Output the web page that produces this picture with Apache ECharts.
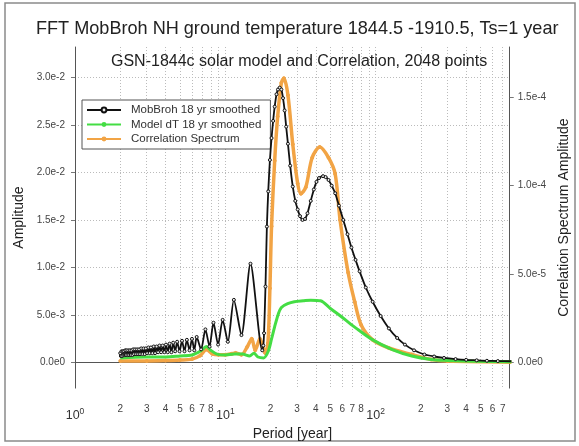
<!DOCTYPE html>
<html>
<head>
<meta charset="utf-8">
<script src="https://cdn.jsdelivr.net/npm/echarts@6/dist/echarts.min.js"></script>
<style>
html,body{margin:0;padding:0;background:#fff;}
#chart{width:579px;height:446px;}
</style>
</head>
<body>
<div id="chart"></div>
<script>
// ---- data ----
const blackPeriods = [2.00,2.02,2.04,2.06,2.08,2.10,2.12,2.14,2.16,2.18,2.20,2.23,2.26,2.29,2.32,2.35,2.38,2.41,2.44,2.47,2.51,2.55,2.59,2.63,2.67,2.71,2.76,2.81,2.86,2.91,2.96,3.02,3.08,3.14,3.20,3.27,3.34,3.41,3.49,3.57,3.65,3.74,3.83,3.93,4.03,4.14,4.26,4.38,4.50,4.64,4.78,4.96,5.15,5.35,5.55,5.78,6.00,6.22,6.45,6.90,7.37,7.85,8.34,8.95,9.60,10.4,11.4,12.8,14.7,17.6,17.9,18.1,18.5,18.9,19.3,19.8,20.3,20.8,21.3,21.9,22.4,23.0,23.6,24.2,24.8,25.4,26.1,27.0,28.1,29.2,30.3,31.4,32.6,33.9,35.2,37.0,38.8,40.4,42.0,44.7,46.5,48.6,51.0,53.8,57.0,60.9,65.0,69.0,73.5,78.2,86.0,95.5,108,122.5,139,156.6,180,211,245,285,340,400,470,550,650,800];
const blackValues = [0.0010,0.0007,0.0012,0.0007,0.0012,0.0008,0.0012,0.0008,0.0013,0.0008,0.0013,0.0008,0.0013,0.0008,0.0013,0.0008,0.0013,0.0008,0.0014,0.0009,0.0014,0.0009,0.0014,0.0009,0.0014,0.0009,0.0015,0.0009,0.0015,0.0009,0.0015,0.0010,0.0016,0.0010,0.0016,0.0010,0.0017,0.0010,0.0017,0.0011,0.0018,0.0011,0.0018,0.0011,0.0019,0.0011,0.0020,0.0011,0.0021,0.0012,0.0022,0.0012,0.0023,0.0012,0.0024,0.0013,0.0025,0.0013,0.0027,0.0014,0.0035,0.0017,0.0042,0.0019,0.0045,0.0022,0.0066,0.0029,0.0104,0.0013,0.0018,0.0031,0.0080,0.0143,0.0180,0.0213,0.0236,0.0254,0.0269,0.0282,0.0287,0.0289,0.0287,0.0278,0.0265,0.0248,0.0230,0.0207,0.0185,0.0170,0.0161,0.0154,0.0150,0.0151,0.0157,0.0170,0.0182,0.0190,0.0194,0.0196,0.0195,0.0192,0.0186,0.0178,0.0165,0.0150,0.0135,0.0121,0.0108,0.0096,0.0079,0.0064,0.0049,0.0036,0.0026,0.0019,0.0013,0.00086,0.00065,0.0005,0.00038,0.0003,0.00025,0.0002,0.00017,0.00015];

const greenPeriods = [2.0,3.0,4.0,5.0,6.0,6.8,7.5,8.0,8.8,10,11.5,13,14.5,15.5,16.5,18,19.3,20.3,21.3,22.5,23.6,26,28.8,33,37,43,50,61,74,95,129,174,234,301,450,800];
const greenValues = [0.0005,0.0006,0.0006,0.0007,0.0008,0.0012,0.0017,0.0013,0.0009,0.0008,0.0009,0.0009,0.0007,0.0010,0.0006,0.0005,0.0012,0.0025,0.0038,0.0051,0.0058,0.0062,0.0064,0.0065,0.00657,0.0065,0.0057,0.00467,0.00363,0.00242,0.00138,0.0007,0.00034,0.00024,0.00015,0.0001];

const orangePeriods = [2.0,3.0,4.0,5.0,6.0,6.8,7.5,8.2,9.0,10,11,11.7,12.8,14.0,15.0,15.8,17.0,18.4,19.2,19.8,20.3,21.3,22.3,23.6,24.5,26.1,28.1,30.3,31.8,34.3,37.8,42.5,48.6,53.8,58,65.6,72.6,80.1,95.5,122.5,174,234,301,800];
const orangeValues = [1.0e-6,1.0e-6,1.2e-6,1.5e-6,2.0e-6,4.0e-6,7.4e-6,5.0e-6,4.5e-6,4.5e-6,5.0e-6,5.5e-6,4.5e-6,9.0e-6,1.35e-5,7.0e-6,1.35e-5,5.5e-6,1.1e-5,4.2e-5,7.7e-5,1.14e-4,1.39e-4,1.58e-4,1.606e-4,1.51e-4,1.233e-4,1.011e-4,9.54e-5,9.9e-5,1.157e-4,1.217e-4,1.157e-4,1.065e-4,8.06e-5,5.09e-5,3.43e-5,2.13e-5,1.29e-5,8.3e-6,4.6e-6,1.8e-6,9e-7,3e-7];

const leftTicks = [0,0.005,0.010,0.015,0.020,0.025,0.030];
const rightTicks = [0,5e-5,1e-4,1.5e-4];
const xGridValues = [2,3,4,5,6,7,8,9,10,20,30,40,50,60,70,80,90,100,200,300,400,500,600,700];
const xLabelValues = [1,2,3,4,5,6,7,8,10,20,30,40,50,60,70,80,100,200,300,400,500,600,700];

const seriesNames = ['MobBroh 18 yr smoothed','Model dT 18 yr smoothed','Correlation Spectrum'];

function pair(ps, vs){ return ps.map((p,i)=>[p, vs[i]]); }
function expFmt(v){
  return v.toExponential(1).replace('e+','e');
}
const FONT = 'Liberation Sans, Arial, sans-serif';

const chart = echarts.init(document.getElementById('chart'), null, {renderer:'canvas'});
chart.setOption({
  backgroundColor:'#fff',
  animation:false,
  title:[
    {text:'FFT MobBroh NH ground temperature 1844.5 -1910.5, Ts=1 year', left:31, top:15,
     textStyle:{fontSize:18.1, fontWeight:'normal', color:'#222', fontFamily:FONT}},
    {text:'GSN-1844c solar model and Correlation, 2048 points', left:106, top:49,
     textStyle:{fontSize:16, fontWeight:'normal', color:'#222', fontFamily:FONT}}
  ],
  graphic:[
    {type:'rect', shape:{x:5,y:3,width:570,height:438}, style:{fill:'none', stroke:'#8a8a8a', lineWidth:1.5}, silent:true}
  ],
  legend:{
    orient:'vertical', left:82, top:100,
    data:seriesNames,
    borderColor:'#555', borderWidth:1, borderRadius:0,
    padding:[4,9,4,4], itemGap:2.5, itemWidth:34, itemHeight:6,
    textStyle:{fontSize:11.5, color:'#333', fontFamily:FONT, padding:[0,0,0,5]},
    backgroundColor:'#fff'
  },
  grid:{left:75, right:56, top:47, bottom:50},
  xAxis:{
    type:'log', logBase:10, min:1, max:780,
    name:'Period [year]', nameLocation:'middle', nameGap:35,
    nameTextStyle:{fontSize:14, color:'#222', fontFamily:FONT},
    axisLine:{show:true, lineStyle:{color:'#555', width:1}},
    axisTick:{show:false, customValues:xGridValues},
    splitLine:{show:true, lineStyle:{color:'#bbb', type:[1,2], width:1}},
    minorTick:{show:false}, minorSplitLine:{show:false},
    axisLabel:{
      customValues:xLabelValues, margin:16, color:'#444', fontFamily:FONT, fontSize:10,
      formatter:function(v){
        if (v===1) return '{b|10}{s|0}';
        if (v===10) return '{b|10}{s|1}';
        if (v===100) return '{b|10}{s|2}';
        const d = Math.round(v/Math.pow(10, Math.floor(Math.log10(v)+1e-9)));
        return '{d|'+d+'}';
      },
      rich:{
        b:{fontSize:12.5, color:'#333', fontFamily:FONT, padding:[5,0,0,0]},
        s:{fontSize:8.5, color:'#333', fontFamily:FONT, padding:[0,0,2,0]},
        d:{fontSize:10, color:'#444', fontFamily:FONT}
      }
    }
  },
  yAxis:[
    {
      type:'value', min:-0.00267, max:0.03317, position:'left',
      name:'Amplitude', nameLocation:'middle', nameGap:45,
      nameTextStyle:{fontSize:14, color:'#222', fontFamily:FONT},
      axisLine:{show:true, lineStyle:{color:'#555'}},
      axisTick:{show:true, customValues:leftTicks, length:4, lineStyle:{color:'#777'}},
      axisLabel:{customValues:leftTicks, formatter:expFmt, margin:10, fontSize:10, color:'#444', fontFamily:FONT},
      splitLine:{show:true, lineStyle:{color:'#bbb', type:[1,2], width:1}}
    },
    {
      type:'value', min:-1.434e-5, max:1.782e-4, position:'right',
      name:'Correlation Spectrum Amplitude', nameLocation:'middle', nameGap:44,
      nameTextStyle:{fontSize:14, color:'#222', fontFamily:FONT},
      axisLine:{show:true, lineStyle:{color:'#555'}},
      axisTick:{show:true, customValues:rightTicks, length:4, lineStyle:{color:'#777'}},
      axisLabel:{customValues:rightTicks, formatter:expFmt, margin:8, fontSize:10, color:'#444', fontFamily:FONT},
      splitLine:{show:false}
    }
  ],
  series:[
    {
      name:seriesNames[0], type:'line', yAxisIndex:0, z:5,
      data:pair(blackPeriods, blackValues), smooth:0.25,
      symbol:'circle', symbolSize:3, showSymbol:true,
      itemStyle:{color:'#eeeeee', borderColor:'#111', borderWidth:1},
      lineStyle:{color:'#111', width:1.8}
    },
    {
      name:seriesNames[1], type:'line', yAxisIndex:0, z:4,
      data:pair(greenPeriods, greenValues), smooth:0.3,
      symbol:'none',
      itemStyle:{color:'#44dd44'},
      lineStyle:{color:'#44dd44', width:3}
    },
    {
      name:seriesNames[2], type:'line', yAxisIndex:1, z:3,
      data:pair(orangePeriods, orangeValues), smooth:0.3,
      symbol:'circle', symbolSize:3, showSymbol:true,
      itemStyle:{color:'#f2a445', borderColor:'#f2a445'},
      lineStyle:{color:'#f2a445', width:3.5}
    }
  ]
});
</script>
</body>
</html>
